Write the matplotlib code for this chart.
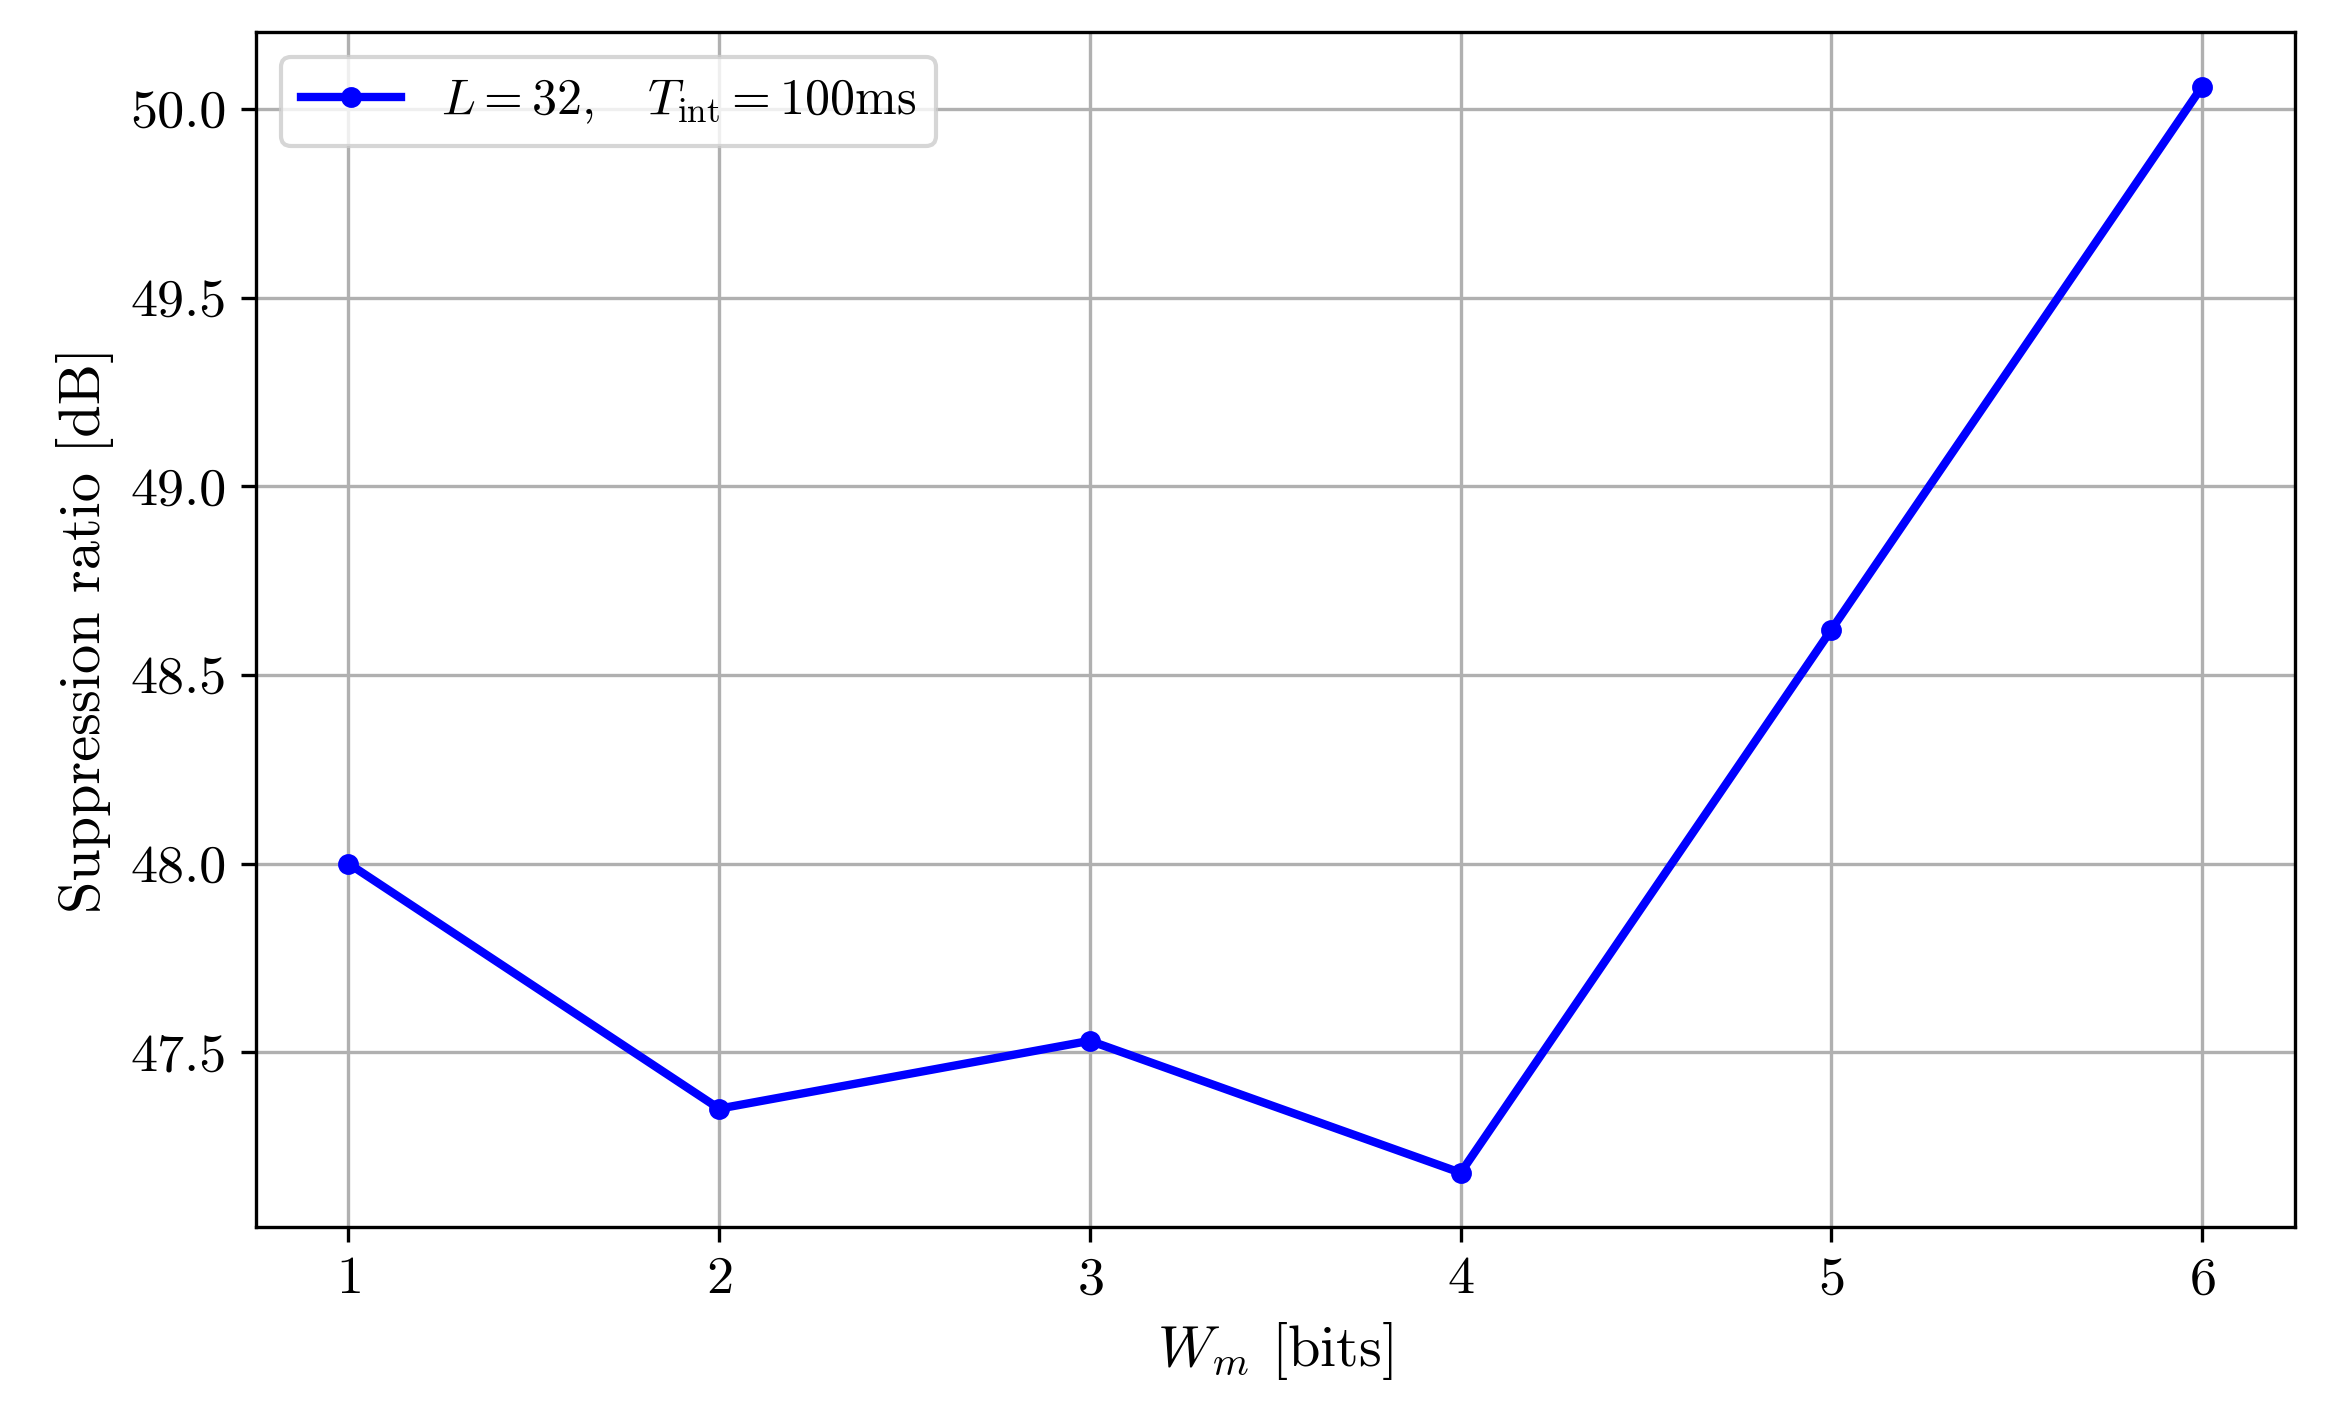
import matplotlib
matplotlib.use('Agg')
from matplotlib import pyplot as plt

plt.rcParams['font.family'] = 'serif'
plt.rcParams['font.serif'] = ['cmr10']
plt.rcParams['mathtext.fontset'] = 'cm'
plt.rcParams['axes.formatter.use_mathtext'] = True

# data
wm_bits = [1, 2, 3, 4, 5, 6]
suppression_db = [48.0, 47.35, 47.53, 47.18, 48.62, 50.06]

fig = plt.figure(figsize=(7.75, 4.68), dpi=300)
ax = fig.add_axes([0.11, 0.126, 0.877, 0.851])
ax.plot(wm_bits, suppression_db, color='blue', marker='o', markersize=4, linewidth=2,
        label=r'$L=32,\quad T_{\rm int}=100{\rm ms}$')
ax.set_xlabel(r'$W_m$ [bits]', fontsize=14)
ax.set_ylabel('Suppression ratio [dB]', fontsize=14)
ax.set_yticks([47.5, 48.0, 48.5, 49.0, 49.5, 50.0])
ax.set_yticklabels(['47.5', '48.0', '48.5', '49.0', '49.5', '50.0'])
ax.tick_params(labelsize=13)
ax.grid(True, color='#b0b0b0')
ax.legend(loc='upper left', fontsize=12)
fig.savefig('out.png', dpi=300)
